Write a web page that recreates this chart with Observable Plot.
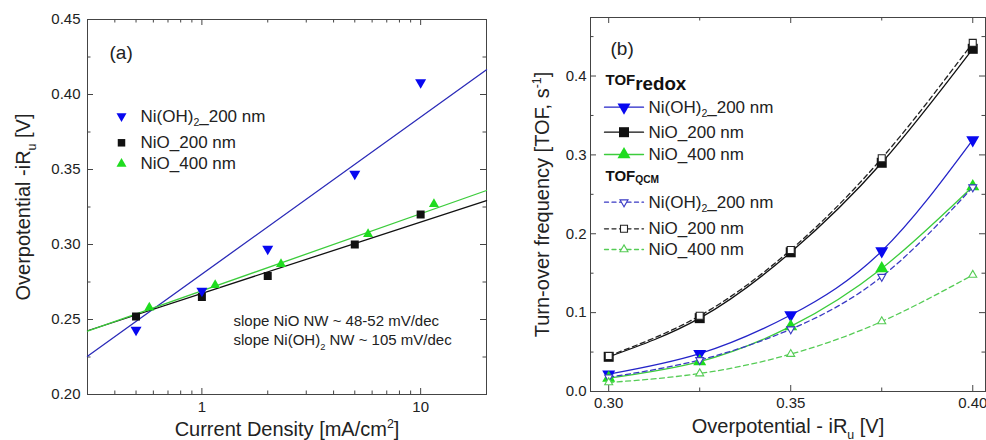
<!DOCTYPE html>
<html><head><meta charset="utf-8">
<script src="https://cdn.jsdelivr.net/npm/d3@7"></script>
<script src="https://cdn.jsdelivr.net/npm/@observablehq/plot@0.6"></script>
<style>
body{margin:0;background:#fff;}
#wrap{display:flex;width:986px;height:440px;overflow:hidden;background:#fff;}
#wrap svg{display:block;flex:none;}
</style></head><body><div id="wrap"></div>
<script>
// ---------- Panel (a): Tafel plot ----------
const densityA = [0.5, 1, 2, 5, 10];
const densityNiO400 = [0.575, 1.15, 2.3, 5.75, 11.5];
const etaNiOH2 = [0.243, 0.269, 0.297, 0.347, 0.408];
const etaNiO200 = [0.252, 0.265, 0.279, 0.300, 0.320];
const etaNiO400 = [0.258, 0.273, 0.287, 0.307, 0.327];
const fitDensity = [0.3, 20];
const fitNiOH2 = [0.2255, 0.4165];
const fitNiO200 = [0.2425, 0.3293];
const fitNiO400 = [0.2422, 0.336];
const xTicksA = [1, 10];
const xMinorA = [0.3, 0.4, 0.5, 0.6, 0.7, 0.8, 0.9, 2, 3, 4, 5, 6, 7, 8, 9, 20];
const yTicksA = [0.20, 0.25, 0.30, 0.35, 0.40, 0.45];
const yMinorA = [0.225, 0.275, 0.325, 0.375, 0.425];
const seriesLabels = ["Ni(OH)_{2}_200 nm", "NiO_200 nm", "NiO_400 nm"];
const slopeNotes = ["slope NiO NW ~ 48-52 mV/dec", "slope Ni(OH)_{2} NW ~ 105 mV/dec"];

// ---------- Panel (b): turn-over frequency ----------
const overpotB = [0.300, 0.325, 0.350, 0.375, 0.400];
const redoxNiOH2 = [0.022, 0.048, 0.097, 0.178, 0.319];
const redoxNiO200 = [0.044, 0.093, 0.1765, 0.290, 0.4345];
const redoxNiO400 = [0.017, 0.038, 0.0825, 0.156, 0.260];
const qcmNiOH2 = [0.018, 0.040, 0.079, 0.1456, 0.259];
const qcmNiO200 = [0.045, 0.096, 0.1795, 0.2957, 0.442];
const qcmNiO400 = [0.0114, 0.0228, 0.0474, 0.0888, 0.1477];
const xTicksB = [0.30, 0.35, 0.40];
const xMinorB = [0.325, 0.375];
const yTicksB = [0.0, 0.1, 0.2, 0.3, 0.4];
const yMinorB = [0.05, 0.15, 0.25, 0.35, 0.45];
const groupLabels = ["TOF_[redox]", "TOF_<QCM>"];

// ---------- styles ----------
const FONT = "Liberation Sans, Arial, Helvetica, sans-serif";
const FRAME = "#444";
const BLUE_M = "#0808f0", BLUE_L = "#2b2bb8", BLUE_Q = "#3a3ac4";
const GREEN_M = "#1fdc1f", GREEN_L = "#3ccc3c", GREEN_Q = "#55cc55";
const BLACK = "#111";
const rSq = s => s / Math.sqrt(Math.PI);
const rTri = w => Math.sqrt(Math.sqrt(3) * w * w / 4 / Math.PI);
const rows = (xs, ys) => xs.map((x, i) => ({x, y: ys[i]}));

function frameTicks(xMaj, xMin, yMaj, yMin, pw, ph) {
  const M = 6, m = 3.5, st = {stroke: FRAME, strokeWidth: 1};
  return [
    Plot.tickX(xMaj, {x: d => d, insetTop: ph - M, ...st}),
    Plot.tickX(xMaj, {x: d => d, insetBottom: ph - M, ...st}),
    Plot.tickX(xMin, {x: d => d, insetTop: ph - m, ...st}),
    Plot.tickX(xMin, {x: d => d, insetBottom: ph - m, ...st}),
    Plot.tickY(yMaj, {y: d => d, insetRight: pw - M, ...st}),
    Plot.tickY(yMaj, {y: d => d, insetLeft: pw - M, ...st}),
    Plot.tickY(yMin, {y: d => d, insetRight: pw - m, ...st}),
    Plot.tickY(yMin, {y: d => d, insetLeft: pw - m, ...st})
  ];
}

function baseFontSize(el) {
  for (let n = el; n && n.getAttribute; n = n.parentNode) {
    const a = n.getAttribute("font-size");
    if (a) return parseFloat(a);
  }
  return parseFloat(getComputedStyle(el).fontSize) || 15;
}

// rich text: _{sub}  ^{sup}  _[big sub]  _<small sub>
function richify(svg) {
  d3.select(svg).selectAll("text").each(function () {
    const t = this.textContent;
    if (!/[_^][\{\[<]/.test(t)) return;
    const fs = baseFontSize(this);
    const re = /([_^])(\{([^}]*)\}|\[([^\]]*)\]|<([^>]*)>)/g;
    const sel = d3.select(this);
    sel.text(null);
    let last = 0, m, shift = 0;
    const add = (s, size, target) => {
      const sp = sel.append("tspan").text(s).attr("font-size", size + "px");
      const d = target - shift;
      if (d) sp.attr("dy", d);
      shift = target;
    };
    while ((m = re.exec(t))) {
      if (m.index > last) add(t.slice(last, m.index), fs, 0);
      if (m[3] !== undefined) add(m[3], fs * 0.62, (m[1] === "_" ? 0.28 : -0.42) * fs);
      else if (m[4] !== undefined) add(m[4], fs * 1.25, 0.3 * fs);
      else add(m[5], fs * 0.68, 0.14 * fs);
      last = re.lastIndex;
    }
    if (last < t.length) add(t.slice(last), fs, 0);
  });
}

const TL = {frameAnchor: "top-left", textAnchor: "start", lineAnchor: "middle"};

// ---------- build panel (a) ----------
const WA = 490, HA = 440, mA = {l: 87, r: 4, t: 19, b: 46};
const pwA = WA - mA.l - mA.r, phA = HA - mA.t - mA.b;
const legA = [
  {label: seriesLabels[0], symbol: "triangle", rotate: 180, fill: BLUE_M, r: rTri(10)},
  {label: seriesLabels[1], symbol: "square", rotate: 0, fill: BLACK, r: rSq(7.5)},
  {label: seriesLabels[2], symbol: "triangle", rotate: 0, fill: GREEN_M, r: rTri(10)}
];
const legRowsA = [96.7, 123.3, 144.3];

const plotA = Plot.plot({
  width: WA, height: HA,
  marginLeft: mA.l, marginRight: mA.r, marginTop: mA.t, marginBottom: mA.b,
  style: {fontFamily: FONT, fontSize: "15px", color: "#222", background: "#fff", overflow: "visible"},
  x: {type: "log", domain: [0.3, 20]},
  y: {domain: [0.2, 0.45]},
  marks: [
    Plot.frame({stroke: FRAME, strokeWidth: 1}),
    ...frameTicks(xTicksA, xMinorA, yTicksA, yMinorA, pwA, phA),
    Plot.axisX({ticks: xTicksA, tickSize: 0, tickPadding: 7, tickFormat: d => String(d), label: null, fontSize: 15}),
    Plot.axisY({ticks: yTicksA, tickSize: 0, tickPadding: 7, tickFormat: d3.format(".2f"), label: null, fontSize: 15}),
    Plot.line(rows(fitDensity, fitNiOH2), {x: "x", y: "y", stroke: BLUE_L, strokeWidth: 1.3}),
    Plot.line(rows(fitDensity, fitNiO200), {x: "x", y: "y", stroke: BLACK, strokeWidth: 1.3}),
    Plot.line(rows(fitDensity, fitNiO400), {x: "x", y: "y", stroke: GREEN_L, strokeWidth: 1.3}),
    Plot.dot(rows(densityA, etaNiO200), {x: "x", y: "y", symbol: "square", fill: BLACK, r: rSq(8)}),
    Plot.dot(rows(densityNiO400, etaNiO400), {x: "x", y: "y", symbol: "triangle", fill: GREEN_M, r: rTri(10)}),
    Plot.dot(rows(densityA, etaNiOH2), {x: "x", y: "y", symbol: "triangle", rotate: 180, fill: BLUE_M, r: rTri(11)}),
    ...legA.flatMap((e, i) => [
      Plot.dot([e], {frameAnchor: "top-left", dx: 34, dy: legRowsA[i], symbol: e.symbol, rotate: e.rotate, fill: e.fill, r: e.r}),
      Plot.text([e], {...TL, dx: 53, dy: legRowsA[i], text: d => d.label, fontSize: 17, fill: "#222"})
    ]),
    Plot.text(["(a)"], {...TL, dx: 22, dy: 33, text: d => d, fontSize: 19, fill: "#222"}),
    Plot.text([slopeNotes[0]], {...TL, dx: 146, dy: 301.7, text: d => d, fontSize: 15, fill: "#222"}),
    Plot.text([slopeNotes[1]], {...TL, dx: 146, dy: 321, text: d => d, fontSize: 15, fill: "#222"}),
    Plot.text(["Current Density [mA/cm^{2}]"], {frameAnchor: "bottom", textAnchor: "middle", lineAnchor: "middle", dy: 35, text: d => d, fontSize: 20, fill: "#222"}),
    Plot.text(["Overpotential -iR_{u} [V]"], {frameAnchor: "left", textAnchor: "middle", lineAnchor: "middle", dx: -64, rotate: -90, text: d => d, fontSize: 20, fill: "#222"})
  ]
});

// ---------- build panel (b) ----------
const WB = 496, HB = 440, mB = {l: 100, r: 1, t: 17, b: 49};
const pwB = WB - mB.l - mB.r, phB = HB - mB.t - mB.b;
const redoxSeries = [
  {label: seriesLabels[0], ys: redoxNiOH2, stroke: "#2424c8", fill: BLUE_M, symbol: "triangle", rotate: 180, r: rTri(13)},
  {label: seriesLabels[1], ys: redoxNiO200, stroke: BLACK, fill: BLACK, symbol: "square", rotate: 0, r: rSq(10)},
  {label: seriesLabels[2], ys: redoxNiO400, stroke: GREEN_L, fill: GREEN_M, symbol: "triangle", rotate: 0, r: rTri(13)}
];
const qcmSeries = [
  {label: seriesLabels[0], ys: qcmNiOH2, stroke: BLUE_Q, symbol: "triangle", rotate: 180, r: rTri(8)},
  {label: seriesLabels[1], ys: qcmNiO200, stroke: "#222", symbol: "square", rotate: 0, r: rSq(7)},
  {label: seriesLabels[2], ys: qcmNiO400, stroke: GREEN_Q, symbol: "triangle", rotate: 0, r: rTri(8)}
];
const DASH = "5,3.5";
const legRowsRedox = [89.7, 114.7, 137];
const legRowsQcm = [184.7, 211.3, 232];
const lineShape = {draw(ctx, l) { ctx.moveTo(0, 0); ctx.lineTo(0, -l); }};

const plotB = Plot.plot({
  width: WB, height: HB,
  marginLeft: mB.l, marginRight: mB.r, marginTop: mB.t, marginBottom: mB.b,
  style: {fontFamily: FONT, fontSize: "15px", color: "#222", background: "#fff", overflow: "visible"},
  x: {domain: [0.295, 0.4035]},
  y: {domain: [0, 0.4742]},
  marks: [
    Plot.frame({stroke: FRAME, strokeWidth: 1}),
    ...frameTicks(xTicksB, xMinorB, yTicksB, yMinorB, pwB, phB),
    Plot.axisX({ticks: xTicksB, tickSize: 0, tickPadding: 6, tickFormat: d3.format(".2f"), label: null, fontSize: 15}),
    Plot.axisY({ticks: yTicksB, tickSize: 0, tickPadding: 4, tickFormat: d3.format(".1f"), label: null, fontSize: 15}),
    ...redoxSeries.map(s => Plot.line(rows(overpotB, s.ys), {x: "x", y: "y", curve: "natural", stroke: s.stroke, strokeWidth: 1.3})),
    ...qcmSeries.map(s => Plot.line(rows(overpotB, s.ys), {x: "x", y: "y", curve: "natural", stroke: s.stroke, strokeWidth: 1.3, strokeDasharray: DASH})),
    ...redoxSeries.map(s => Plot.dot(rows(overpotB, s.ys), {x: "x", y: "y", symbol: s.symbol, rotate: s.rotate, fill: s.fill, r: s.r})),
    ...qcmSeries.map(s => Plot.dot(rows(overpotB, s.ys), {x: "x", y: "y", symbol: s.symbol, rotate: s.rotate, fill: "#fff", stroke: s.stroke, strokeWidth: 1.1, r: s.r})),
    // legend
    Plot.text([groupLabels[0]], {...TL, dx: 15, dy: 63, text: d => d, fontSize: 15, fontWeight: "bold", fill: "#111"}),
    Plot.text([groupLabels[1]], {...TL, dx: 15, dy: 158.3, text: d => d, fontSize: 15, fontWeight: "bold", fill: "#111"}),
    ...redoxSeries.flatMap((s, i) => [
      Plot.vector([s], {frameAnchor: "top-left", dx: 33.5, dy: legRowsRedox[i], rotate: 90, length: 39, anchor: "middle", shape: lineShape, stroke: s.stroke, strokeWidth: 1.3}),
      Plot.dot([s], {frameAnchor: "top-left", dx: 33.5, dy: legRowsRedox[i], symbol: s.symbol, rotate: s.rotate, fill: s.fill, r: s.r}),
      Plot.text([s], {...TL, dx: 58, dy: legRowsRedox[i], text: d => d.label, fontSize: 17, fill: "#222"})
    ]),
    ...qcmSeries.flatMap((s, i) => [
      Plot.vector([s], {frameAnchor: "top-left", dx: 33.5, dy: legRowsQcm[i], rotate: 90, length: 39, anchor: "middle", shape: lineShape, stroke: s.stroke, strokeWidth: 1.3, strokeDasharray: "4,3.5"}),
      Plot.dot([s], {frameAnchor: "top-left", dx: 33.5, dy: legRowsQcm[i], symbol: s.symbol, rotate: s.rotate, fill: "#fff", stroke: s.stroke, strokeWidth: 1.1, r: s.r}),
      Plot.text([s], {...TL, dx: 58, dy: legRowsQcm[i], text: d => d.label, fontSize: 17, fill: "#222"})
    ]),
    Plot.text(["(b)"], {...TL, dx: 20, dy: 31, text: d => d, fontSize: 19, fill: "#222"}),
    Plot.text(["Overpotential - iR_{u} [V]"], {frameAnchor: "bottom", textAnchor: "middle", lineAnchor: "middle", dy: 35, text: d => d, fontSize: 20, fill: "#222"}),
    Plot.text(["Turn-over frequency [TOF, s^{-1}]"], {frameAnchor: "left", textAnchor: "middle", lineAnchor: "middle", dx: -47.5, rotate: -90, text: d => d, fontSize: 20, fill: "#222"})
  ]
});

const wrap = document.getElementById("wrap");
wrap.append(plotA, plotB);
richify(plotA);
richify(plotB);
</script>
</body></html>
